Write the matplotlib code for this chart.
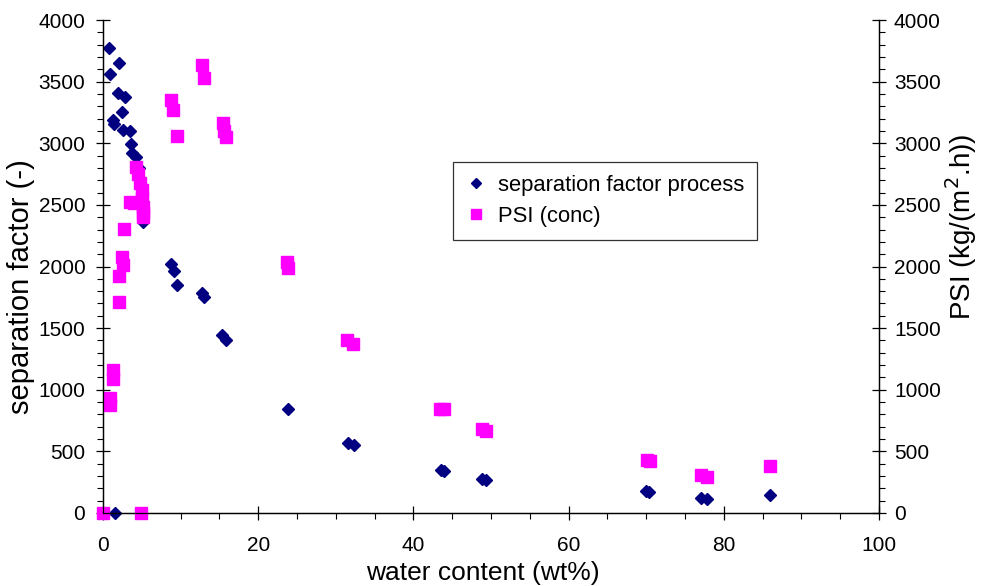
import matplotlib.pyplot as plt
from matplotlib.ticker import MultipleLocator

plt.rcParams['font.family'] = ['Liberation Sans', 'DejaVu Sans']

# separation factor process (left axis)
sep_x = [0.8, 2.0, 0.9, 1.9, 2.8, 2.5, 1.3, 1.4, 2.6, 3.5, 3.6, 3.7, 4.3, 4.6,
         4.9, 5.1, 5.1, 8.8, 9.1, 9.6, 12.8, 13.0, 15.3, 15.8, 23.8, 31.6,
         32.3, 43.5, 43.9, 48.9, 49.3, 70.0, 70.4, 77.0, 77.8, 86.0, 1.6]
sep_y = [3772, 3655, 3560, 3410, 3372, 3254, 3189, 3160, 3108, 3102, 2992, 2923,
         2890, 2800, 2650, 2500, 2360, 2024, 1962, 1849, 1785, 1752, 1442, 1404,
         846, 572, 552, 345, 340, 275, 270, 175, 170, 119, 114, 146, 0]

# PSI (conc) (right axis)
psi_x = [0.0, 4.9, 0.9, 0.9, 1.3, 1.3, 2.0, 2.0, 2.6, 2.5, 2.75, 3.5, 4.0, 4.2,
         4.5, 4.8, 5.0, 5.0, 5.1, 5.1, 5.1, 8.8, 9.0, 9.6, 12.8, 13.0, 15.4,
         15.6, 15.8, 23.7, 23.9, 31.4, 32.2, 43.4, 43.9, 48.9, 49.3, 70.1,
         70.5, 77.0, 77.8, 86.0]
psi_y = [0, 0, 930, 876, 1160, 1085, 1709, 1925, 2015, 2080, 2304, 2526, 2518,
         2810, 2751, 2675, 2621, 2553, 2486, 2432, 2404, 3351, 3270, 3062, 3635,
         3527, 3167, 3102, 3048, 2039, 1985, 1404, 1370, 842, 840, 678, 665,
         432, 425, 308, 295, 381]

fig = plt.figure(figsize=(9.81, 5.86), dpi=100)
ax = fig.add_axes([103 / 981, 1 - 513 / 586, 776 / 981, 493 / 586])
ax2 = ax.twinx()

l1, = ax.plot(sep_x, sep_y, 'D', color='#000080', ms=6.2, mec='#000080',
              label='separation factor process', clip_on=False)
l2, = ax2.plot(psi_x, psi_y, 's', color='#FF00FF', ms=8.6, mec='#FF00FF',
               label='PSI (conc)', clip_on=False)
ax2.set_zorder(ax.get_zorder() + 1)

for a in (ax, ax2):
    a.set_xlim(0, 100)
    a.set_ylim(0, 4000)
    a.yaxis.set_major_locator(MultipleLocator(500))
    a.yaxis.set_minor_locator(MultipleLocator(100))
    a.spines['top'].set_visible(False)
    for s in a.spines.values():
        s.set_linewidth(0.9)
    a.tick_params(which='major', direction='inout', length=9.5, width=0.9,
                  labelsize=15)
    a.tick_params(which='minor', direction='out', length=4, width=0.8)

ax.xaxis.set_major_locator(MultipleLocator(20))
ax.xaxis.set_minor_locator(MultipleLocator(5))
ax.tick_params(axis='x', which='major', pad=12)
ax.tick_params(axis='y', which='major', pad=8)
ax2.tick_params(axis='y', which='major', pad=6)

ax.set_xlabel('water content (wt%)', fontsize=19)
ax.xaxis.set_label_coords(0.49, -0.097)
ax.set_ylabel('separation factor (-)', fontsize=21)
ax.yaxis.set_label_coords(-0.088, 0.46)
ax2.set_ylabel('PSI (kg/(m$^2$.h))', fontsize=20, rotation=90)
ax2.yaxis.set_label_coords(1.082, 0.58)

leg = ax2.legend(handles=[l1, l2], loc='upper left',
                 bbox_to_anchor=(453 / 981, 1 - 162 / 586), bbox_transform=fig.transFigure,
                 fontsize=15.8, frameon=True, fancybox=False, handlelength=0.9,
                 handletextpad=0.55, borderpad=0.6, labelspacing=0.45,
                 borderaxespad=0, markerscale=0.8)
leg.get_frame().set_edgecolor('black')
leg.get_frame().set_linewidth(0.9)

fig.savefig('out.png', dpi=100)
